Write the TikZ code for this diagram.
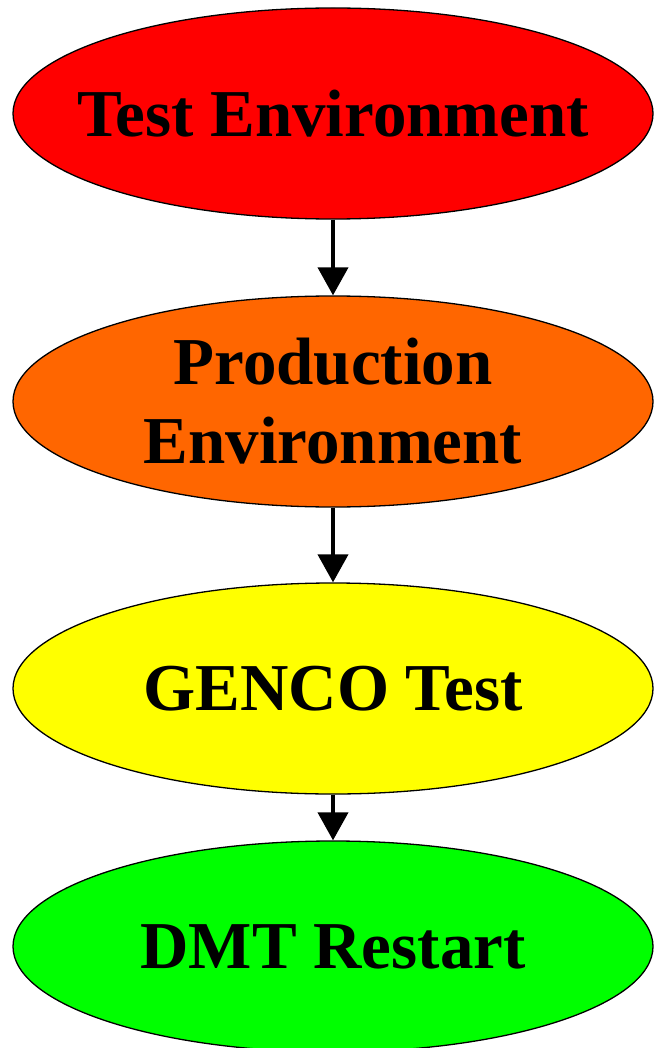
\documentclass[tikz,border=0pt]{standalone}
\usepackage{fontspec}
\setmainfont{Liberation Serif}
\usepackage{xcolor}
\usetikzlibrary{arrows.meta,shapes.geometric}
\definecolor{stagered}{HTML}{FF0000}
\definecolor{stageorange}{HTML}{FF6600}
\definecolor{stageyellow}{HTML}{FFFF00}
\definecolor{stagegreen}{HTML}{00FF00}
\begin{document}
\begin{tikzpicture}[x=1pt,y=1pt,
stage/.style={ellipse,draw=black,line width=1.3pt,minimum width=640pt,minimum height=211pt,
inner xsep=-90pt,inner ysep=-30pt,align=center,font=\bfseries\fontsize{67}{79}\selectfont},
myedge/.style={-{Triangle[length=28pt,width=30pt]},line width=4pt}]
\useasboundingbox (0,0) rectangle (655,-1048);
\node[stage,fill=stagered] (T) at (333, -113.5) {Test Environment};
\node[stage,fill=stageorange] (P) at (333, -401.5) {Production\\Environment};
\node[stage,fill=stageyellow] (G) at (333, -688.5) {GENCO Test};
\node[stage,fill=stagegreen] (D) at (333, -946.5) {DMT Restart};
\draw[myedge] (T) -- (P);
\draw[myedge] (P) -- (G);
\draw[myedge] (G) -- (D);
\end{tikzpicture}
\end{document}
